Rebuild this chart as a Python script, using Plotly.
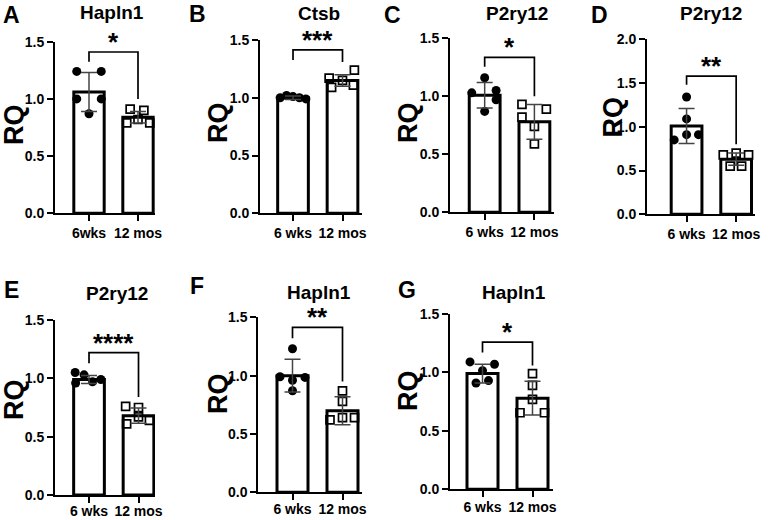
import plotly.graph_objects as go

W, H = 771, 520

# panel labels / texts
letters = ["A", "B", "C", "D", "E", "F", "G"]
genes = ["Hapln1", "Ctsb", "P2ry12", "P2ry12", "P2ry12", "Hapln1", "Hapln1"]
stars = ["*", "***", "*", "**", "****", "**", "*"]
groups = [["6wks", "12 mos"]] + [["6 wks", "12 mos"] for _ in range(6)]
y_max = [1.5, 1.5, 1.5, 2.0, 1.5, 1.5, 1.5]

# bar means and SD (RQ)
mean_6wk = [1.06, 1.00, 1.01, 1.01, 0.99, 1.00, 0.99]
mean_12mo = [0.84, 1.15, 0.78, 0.63, 0.68, 0.70, 0.78]
sd_6wk = [0.17, 0.015, 0.11, 0.20, 0.035, 0.14, 0.08]
sd_12mo = [0.05, 0.05, 0.15, 0.07, 0.065, 0.12, 0.145]

# individual animals
pts_6wk = [
    [1.24, 1.24, 1.00, 1.00, 0.87],
    [1.00, 1.02, 1.01, 1.00, 0.99],
    [1.16, 1.03, 1.05, 0.97, 0.87],
    [1.34, 1.09, 0.91, 0.91, 0.85],
    [1.05, 1.03, 0.97, 0.99, 0.96],
    [1.23, 0.99, 0.96, 0.985, 0.87],
    [1.09, 1.07, 1.015, 0.91, 0.93],
]
pts_12mo = [
    [0.91, 0.90, 0.79, 0.82, 0.79],
    [1.17, 1.24, 1.09, 1.15, 1.11],
    [0.93, 0.89, 0.82, 0.74, 0.59],
    [0.68, 0.70, 0.68, 0.55, 0.55],
    [0.76, 0.75, 0.67, 0.61, 0.64],
    [0.87, 0.78, 0.62, 0.64, 0.64],
    [0.99, 0.89, 0.77, 0.655, 0.655],
]
# horizontal scatter of the dots (category units)
jit_6wk = [
    [-0.25, 0.25, -0.25, 0.25, 0],
    [-0.26, -0.13, 0, 0.13, 0.26],
    [0, -0.26, 0.23, 0.23, 0],
    [0, 0, 0, 0.24, -0.25],
    [-0.28, -0.1, 0.07, 0.24, -0.27],
    [0, -0.25, 0, 0.25, 0],
    [-0.25, 0.24, 0, -0.13, 0.12],
]
jit_12mo = [
    [-0.16, 0.12, -0.23, 0, 0.24],
    [-0.27, 0.24, -0.22, 0, 0.22],
    [-0.25, 0.24, -0.25, 0, 0],
    [-0.26, 0, 0.25, -0.12, 0.11],
    [-0.26, 0, 0, -0.24, 0.22],
    [0, 0, -0.25, 0, 0.24],
    [0, 0, 0, -0.25, 0.24],
]
# significance bracket: left leg end, top, right leg end
brackets = [
    [1.325, 1.41, 1.0],
    [1.327, 1.414, 1.31],
    [1.255, 1.336, 1.0],
    [1.48, 1.58, 0.8],
    [1.13, 1.22, 0.84],
    [1.32, 1.414, 0.95],
    [1.17, 1.26, 1.06],
]

# layout in pixels: plot box (left, right, top, bottom), x range, label standoff
boxes = [
    (55, 155, 41.7, 213.3, -0.694, 1.347, 0),
    (260, 361.7, 40, 213.3, -0.667, 1.388, 0),
    (450, 554, 38.3, 212.3, -0.697, 1.394, 0),
    (647, 755, 39.3, 214.3, -0.798, 1.38, 0),
    (55, 155, 320, 495, -0.687, 1.333, -4),
    (258.3, 361.7, 317.3, 492.3, -0.684, 1.384, -3),
    (450, 553, 314, 489.3, -0.65, 1.41, -2),
]
letter_pos = [(11.5, 15), (198, 13.5), (392.5, 15), (599, 15), (11.5, 290), (197.5, 285.5), (407, 290)]
title_pos = [(112, 12), (319, 13), (517, 13), (711, 13), (117, 293), (319, 292), (514, 292)]
rq_pos = [(14, 125), (218, 123), (408, 123), (612.5, 117), (14, 400), (218, 394), (408, 391)]

FONT = "Liberation Sans, Arial, Helvetica, sans-serif"


def px_x(v):
    return v / W


def px_y(v):
    return 1 - v / H


fig = go.Figure()
annotations = []
layout_axes = {}

for i in range(7):
    n = i + 1
    xa = "x" if n == 1 else f"x{n}"
    ya = "y" if n == 1 else f"y{n}"

    fig.add_trace(go.Bar(
        x=[0, 1], y=[mean_6wk[i], mean_12mo[i]], width=0.62,
        marker=dict(color="white", line=dict(color="black", width=3)),
        xaxis=xa, yaxis=ya, showlegend=False, hoverinfo="skip"))
    fig.add_trace(go.Scatter(
        x=[0 + j for j in jit_6wk[i]], y=pts_6wk[i], mode="markers",
        marker=dict(symbol="circle", size=9, color="black"),
        xaxis=xa, yaxis=ya, showlegend=False, cliponaxis=False))
    fig.add_trace(go.Scatter(
        x=[1 + j for j in jit_12mo[i]], y=pts_12mo[i], mode="markers",
        marker=dict(symbol="square-open", size=8, color="black", line=dict(width=1.7)),
        xaxis=xa, yaxis=ya, showlegend=False, cliponaxis=False))
    fig.add_trace(go.Scatter(
        x=[0, 1], y=[mean_6wk[i], mean_12mo[i]], mode="markers",
        marker=dict(size=1, color="rgba(0,0,0,0)"),
        error_y=dict(type="data", array=[sd_6wk[i], sd_12mo[i]],
                     color="#444", thickness=1.5, width=8),
        xaxis=xa, yaxis=ya, showlegend=False, hoverinfo="skip"))
    b = brackets[i]
    fig.add_trace(go.Scatter(
        x=[0, 0, 1, 1], y=[b[0], b[1], b[1], b[2]], mode="lines",
        line=dict(color="black", width=1.7),
        xaxis=xa, yaxis=ya, showlegend=False, hoverinfo="skip", cliponaxis=False))

    L, R, T, B, xlo, xhi, stand = boxes[i]
    layout_axes["xaxis" if n == 1 else f"xaxis{n}"] = dict(
        domain=[px_x(L), px_x(R)], range=[xlo, xhi], anchor=ya, automargin=False,
        tickmode="array", tickvals=[0, 1], ticktext=groups[i],
        showline=True, linewidth=2, linecolor="black",
        ticks="outside", ticklen=6, tickwidth=2, tickcolor="black",
        ticklabelstandoff=stand,
        showgrid=False, zeroline=False,
        tickfont=dict(family=FONT, size=14, color="black", weight="bold"))
    layout_axes["yaxis" if n == 1 else f"yaxis{n}"] = dict(
        domain=[px_y(B), px_y(T)], range=[0, y_max[i]], anchor=xa, automargin=False,
        tickmode="linear", tick0=0, dtick=0.5, tickformat=".1f",
        showline=True, linewidth=2, linecolor="black",
        ticks="outside", ticklen=6, tickwidth=2, tickcolor="black",
        showgrid=False, zeroline=False,
        tickfont=dict(family=FONT, size=14, color="black", weight="bold"))

    annotations.append(dict(
        x=0.5, y=b[1], xref=xa, yref=ya, text=stars[i], showarrow=False,
        yanchor="bottom", yshift=-7,
        font=dict(family=FONT, size=26, color="black", weight="bold")))
    lx, ly = letter_pos[i]
    annotations.append(dict(
        x=px_x(lx), y=px_y(ly), xref="paper", yref="paper", text=letters[i],
        showarrow=False, xanchor="center", yanchor="middle",
        font=dict(family=FONT, size=23, color="black", weight="bold")))
    tx, ty = title_pos[i]
    annotations.append(dict(
        x=px_x(tx), y=px_y(ty), xref="paper", yref="paper", text=genes[i],
        showarrow=False, xanchor="center", yanchor="middle",
        font=dict(family=FONT, size=19, color="black", weight="bold")))
    rx, ry = rq_pos[i]
    annotations.append(dict(
        x=px_x(rx), y=px_y(ry), xref="paper", yref="paper", text="RQ",
        textangle=-90, showarrow=False, xanchor="center", yanchor="middle",
        font=dict(family=FONT, size=27, color="black", weight="bold")))

fig.update_layout(
    width=W, height=H, margin=dict(l=0, r=0, t=0, b=0, autoexpand=False),
    paper_bgcolor="white", plot_bgcolor="white",
    showlegend=False, annotations=annotations, **layout_axes)

# page has a default body margin; drop it so the figure sits at the window's corner
fig.write_html("out.html", config={"displayModeBar": False},
               post_script="document.body.style.margin='0';")
